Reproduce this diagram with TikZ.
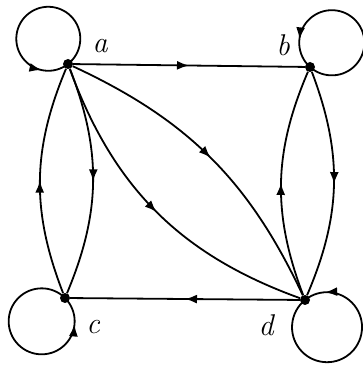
\documentclass[tikz,border=0pt]{standalone}
\usetikzlibrary{arrows.meta, decorations.markings}

\begin{document}
\begin{tikzpicture}[x=1pt, y=1pt,
  vertex/.style={circle, fill, inner sep=0pt, minimum size=10pt},
  edge/.style={line width=1.8pt, postaction={decorate},
    decoration={markings, mark=at position #1 with {\arrow{Latex[length=12pt,width=9pt]}}}},
  edge/.default=0.5,
  lbl/.style={font=\fontsize{30}{32}\selectfont\itshape}]
  \useasboundingbox (0,0) rectangle (363,365);
  % Vertices
  \node[vertex] (a) at (68,301) {};
  \node[vertex] (b) at (310,298) {};
  \node[vertex] (c) at (65,67) {};
  \node[vertex] (d) at (305,65) {};
  % Labels
  \node[lbl] (la) at (100,319) {a};
  \node[lbl] (lb) at (283,320) {b};
  \node[lbl] (lc) at (93,38) {c};
  \node[lbl] (ld) at (266,40) {d};
  % Straight edges
  \draw[edge] (a) -- (b);
  \draw[edge] (d) -- (c);
  % Curved edges
  \draw[edge] (a) to[bend left=22] (c);
  \draw[edge] (c) to[bend left=22] (a);
  \draw[edge] (b) to[bend left=22] (d);
  \draw[edge] (d) to[bend left=22] (b);
  \draw[edge] (a) to[bend left=20] (d);
  \draw[edge] (a) to[bend right=25] (d);
  % Loops
  \draw[edge=0.86] (a.center) arc[start angle=-52, end angle=308, radius=32];
  \draw[edge=0.85] (b.center) arc[start angle=228, end angle=588, radius=32.6];
  \draw[edge=0.86] (c.center) arc[start angle=45, end angle=405, radius=33];
  \draw[edge=0.9] (d.center) arc[start angle=129, end angle=489, radius=35];
\end{tikzpicture}
\end{document}
